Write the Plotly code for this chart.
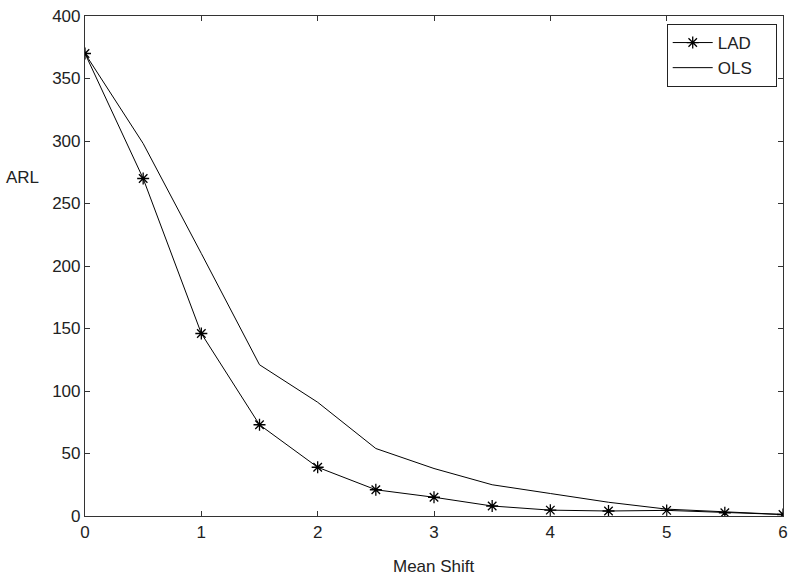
import plotly.graph_objects as go

mean_shift = [0, 0.5, 1, 1.5, 2, 2.5, 3, 3.5, 4, 4.5, 5, 5.5, 6]
arl_lad = [370, 270, 146, 73, 39, 21, 15, 8, 4.7, 4, 4.5, 2.6, 1.2]
arl_ols = [370, 298, 210, 121, 91, 54, 38, 25, 18, 11, 5.5, 3.6, 1.2]
series_names = ["LAD", "OLS"]

font = dict(family="Liberation Sans, Arial, sans-serif", size=17, color="#222")
pad = "\u00a0" * 4

fig = go.Figure()
fig.add_trace(go.Scatter(x=mean_shift, y=arl_lad, name=series_names[0] + pad, mode="lines+markers",
                         line=dict(color="black", width=1),
                         marker=dict(symbol="asterisk-open", size=10,
                                     line=dict(color="black", width=1.3))))
fig.add_trace(go.Scatter(x=mean_shift, y=arl_ols, name=series_names[1] + pad, mode="lines",
                         line=dict(color="black", width=1)))

axis_common = dict(showline=True, linecolor="#333", linewidth=1.2, mirror="ticks",
                   ticks="inside", ticklen=5, tickcolor="#333", showgrid=False,
                   zeroline=False, tickfont=font)
fig.update_xaxes(range=[0, 6], dtick=1, **axis_common)
fig.update_yaxes(range=[0, 400], dtick=50, **axis_common)

fig.update_layout(
    width=795, height=581,
    margin=dict(l=85, r=7, t=14, b=65),
    paper_bgcolor="white", plot_bgcolor="white",
    font=font,
    showlegend=True,
    legend=dict(x=0.991, y=0.984, xanchor="right", yanchor="top",
                bordercolor="#222", borderwidth=1, bgcolor="white",
                font=dict(family="Liberation Sans, Arial, sans-serif", size=17, color="#222"),
                tracegroupgap=0, itemwidth=40),
    annotations=[
        dict(text="ARL", x=-0.1166, y=271, xref="paper", yref="y", showarrow=False,
             xanchor="left", yanchor="middle", font=font),
        dict(text="Mean Shift", x=0.5, y=-0.1, xref="paper", yref="paper", showarrow=False,
             xanchor="center", yanchor="middle", font=font),
    ],
)

fig.write_html("out.html", config={"displayModeBar": False},
               post_script="document.body.style.margin='0';")
